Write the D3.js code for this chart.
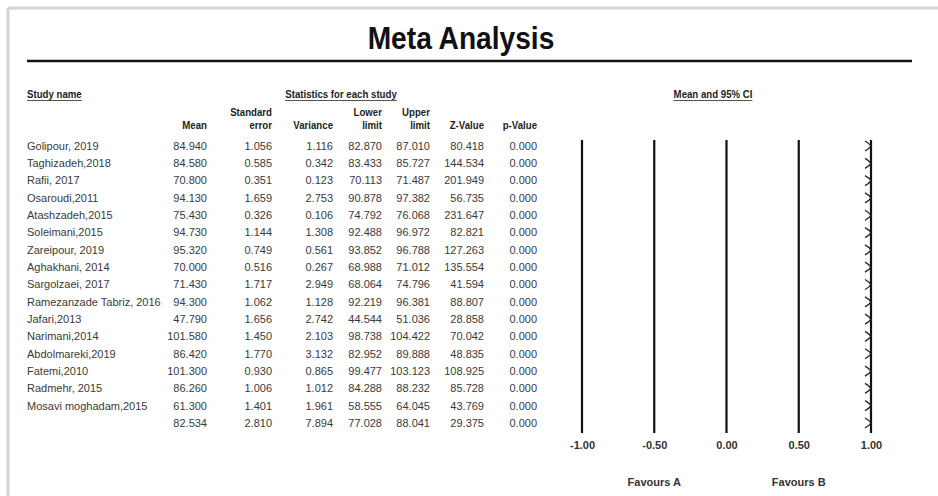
<!DOCTYPE html>
<html>
<head>
<meta charset="utf-8">
<script src="https://cdn.jsdelivr.net/npm/d3@7"></script>
<style>
  html, body { margin: 0; padding: 0; background: #fff; }
  svg { display: block; }
</style>
</head>
<body>
<svg id="chart" width="938" height="496"></svg>
<script>
// Study-level statistics
const studies = ["Golipour, 2019", "Taghizadeh,2018", "Rafii, 2017", "Osaroudi,2011", "Atashzadeh,2015",
  "Soleimani,2015", "Zareipour, 2019", "Aghakhani, 2014", "Sargolzaei, 2017", "Ramezanzade Tabriz, 2016",
  "Jafari,2013", "Narimani,2014", "Abdolmareki,2019", "Fatemi,2010", "Radmehr, 2015", "Mosavi moghadam,2015"];
const means = [84.940, 84.580, 70.800, 94.130, 75.430, 94.730, 95.320, 70.000, 71.430, 94.300, 47.790, 101.580, 86.420, 101.300, 86.260, 61.300];
const stdErrors = [1.056, 0.585, 0.351, 1.659, 0.326, 1.144, 0.749, 0.516, 1.717, 1.062, 1.656, 1.450, 1.770, 0.930, 1.006, 1.401];
const variances = [1.116, 0.342, 0.123, 2.753, 0.106, 1.308, 0.561, 0.267, 2.949, 1.128, 2.742, 2.103, 3.132, 0.865, 1.012, 1.961];
const lowerLimits = [82.870, 83.433, 70.113, 90.878, 74.792, 92.488, 93.852, 68.988, 68.064, 92.219, 44.544, 98.738, 82.952, 99.477, 84.288, 58.555];
const upperLimits = [87.010, 85.727, 71.487, 97.382, 76.068, 96.972, 96.788, 71.012, 74.796, 96.381, 51.036, 104.422, 89.888, 103.123, 88.232, 64.045];
const zValues = [80.418, 144.534, 201.949, 56.735, 231.647, 82.821, 127.263, 135.554, 41.594, 88.807, 28.858, 70.042, 48.835, 108.925, 85.728, 43.769];
const pValues = [0, 0, 0, 0, 0, 0, 0, 0, 0, 0, 0, 0, 0, 0, 0, 0];

// Pooled estimate
const pooled = { mean: 82.534, se: 2.810, variance: 7.894, lower: 77.028, upper: 88.041, z: 29.375, p: 0 };

// Forest plot axis
const tickValues = [-1.00, -0.50, 0.00, 0.50, 1.00];
const favourLabels = ["Favours A", "Favours B"];

const rows = studies.map((name, i) => ({
  name, mean: means[i], se: stdErrors[i], variance: variances[i],
  lower: lowerLimits[i], upper: upperLimits[i], z: zValues[i], p: pValues[i]
}));
rows.push(Object.assign({ name: "" }, pooled));

const svg = d3.select("#chart");
const sans = "'Liberation Sans', Arial, sans-serif";

// bold text squeezed horizontally (condensed headings)
function condensed(parent, x, y, anchor, size, label, squeeze) {
  return parent.append("text")
    .attr("transform", `translate(${x},${y}) scale(${squeeze},1)`)
    .attr("text-anchor", anchor)
    .attr("font-family", sans).attr("font-weight", "bold").attr("font-size", size)
    .attr("fill", "#1e1e1e").text(label);
}

// frame
svg.append("line").attr("x1", 8).attr("x2", 938).attr("y1", 8).attr("y2", 8)
  .attr("stroke", "#d4d4d4").attr("stroke-width", 3);
svg.append("line").attr("x1", 8).attr("x2", 8).attr("y1", 8).attr("y2", 496)
  .attr("stroke", "#d4d4d4").attr("stroke-width", 3);

// title
condensed(svg, 461, 49, "middle", 32, "Meta Analysis", 0.88).attr("fill", "#111");
svg.append("line").attr("x1", 27).attr("x2", 912).attr("y1", 61).attr("y2", 61)
  .attr("stroke", "#151515").attr("stroke-width", 2.6);

// underlined section headings
const squeeze = 0.84;
function heading(x, y, anchor, label) {
  const t = condensed(svg, x, y, anchor, 11.5, label, squeeze);
  const b = t.node().getBBox();
  const w = b.width * squeeze;
  const x0 = anchor === "middle" ? x - w / 2 : x;
  svg.append("line").attr("x1", x0).attr("x2", x0 + w)
    .attr("y1", y + 2.5).attr("y2", y + 2.5).attr("stroke", "#555").attr("stroke-width", 1);
}
heading(27, 98, "start", "Study name");
heading(341, 98, "middle", "Statistics for each study");
heading(713, 98, "middle", "Mean and 95% CI");

// table columns (right edges)
const columns = [
  { key: "mean", right: 207, top: "", bottom: "Mean" },
  { key: "se", right: 272, top: "Standard", bottom: "error" },
  { key: "variance", right: 333, top: "", bottom: "Variance" },
  { key: "lower", right: 382, top: "Lower", bottom: "limit" },
  { key: "upper", right: 430, top: "Upper", bottom: "limit" },
  { key: "z", right: 484, top: "", bottom: "Z-Value" },
  { key: "p", right: 537, top: "", bottom: "p-Value" }
];

const headTop = 116, headBottom = 129;
columns.forEach(c => {
  if (c.top) condensed(svg, c.right, headTop, "end", 11.5, c.top, squeeze);
  condensed(svg, c.right, headBottom, "end", 11.5, c.bottom, squeeze);
});

// row positions
const y = d3.scaleLinear().domain([0, rows.length - 1]).range([146, 423]);
const fmt = d3.format(".3f");

const rowG = svg.append("g").selectAll("g").data(rows).join("g")
  .attr("transform", (d, i) => `translate(0,${y(i)})`);

rowG.append("text").attr("x", 27).attr("dy", "0.35em")
  .attr("font-family", sans).attr("font-size", 11).attr("fill", "#3a3a3a")
  .text(d => d.name);

columns.forEach(c => {
  rowG.append("text").attr("x", c.right).attr("dy", "0.35em").attr("text-anchor", "end")
    .attr("font-family", sans).attr("font-size", 11).attr("fill", "#3a3a3a")
    .text(d => fmt(d[c.key]));
});

// forest plot
const x = d3.scaleLinear().domain([-1, 1]).range([582, 871]);
const plotTop = 140, plotBottom = 433;

svg.append("g").selectAll("line").data(tickValues).join("line")
  .attr("x1", d => x(d)).attr("x2", d => x(d))
  .attr("y1", plotTop).attr("y2", plotBottom)
  .attr("stroke", "#111").attr("stroke-width", 2.2);

const tickFmt = v => d3.format(".2f")(v).replace("\u2212", "-");
const axis = d3.axisBottom(x).tickValues(tickValues).tickFormat(tickFmt).tickSize(0).tickPadding(8);
const axisG = svg.append("g").attr("transform", `translate(0,${plotBottom})`).call(axis);
axisG.select(".domain").remove();
axisG.selectAll("text").attr("font-family", sans).attr("font-weight", "bold")
  .attr("font-size", 11).attr("fill", "#333");

svg.append("g").selectAll("text").data(favourLabels).join("text")
  .attr("x", (d, i) => x(i === 0 ? -0.5 : 0.5)).attr("y", 486).attr("text-anchor", "middle")
  .attr("font-family", sans).attr("font-weight", "bold").attr("font-size", 11).attr("fill", "#333")
  .text(d => d);

// intervals that fall beyond the axis are shown as arrows at the edge
const [dMin, dMax] = x.domain();
const marks = svg.append("g");
rows.forEach((d, i) => {
  const yy = y(i);
  const lo = Math.max(dMin, Math.min(dMax, d.lower));
  const hi = Math.max(dMin, Math.min(dMax, d.upper));
  if (hi > lo) {
    marks.append("line").attr("x1", x(lo)).attr("x2", x(hi)).attr("y1", yy).attr("y2", yy)
      .attr("stroke", "#111").attr("stroke-width", 1);
  }
  if (d.upper > dMax) {
    const xe = x(dMax);
    marks.append("path")
      .attr("d", `M${xe - 6},${yy - 5} Q${xe - 1.5},${yy - 2.5} ${xe},${yy} Q${xe - 1.5},${yy + 2.5} ${xe - 6},${yy + 5}`)
      .attr("fill", "none").attr("stroke", "#222").attr("stroke-width", 1.3);
  }
  if (d.lower < dMin) {
    const xs = x(dMin);
    marks.append("path")
      .attr("d", `M${xs + 6},${yy - 5} Q${xs + 1.5},${yy - 2.5} ${xs},${yy} Q${xs + 1.5},${yy + 2.5} ${xs + 6},${yy + 5}`)
      .attr("fill", "none").attr("stroke", "#222").attr("stroke-width", 1.3);
  }
});
</script>
</body>
</html>
